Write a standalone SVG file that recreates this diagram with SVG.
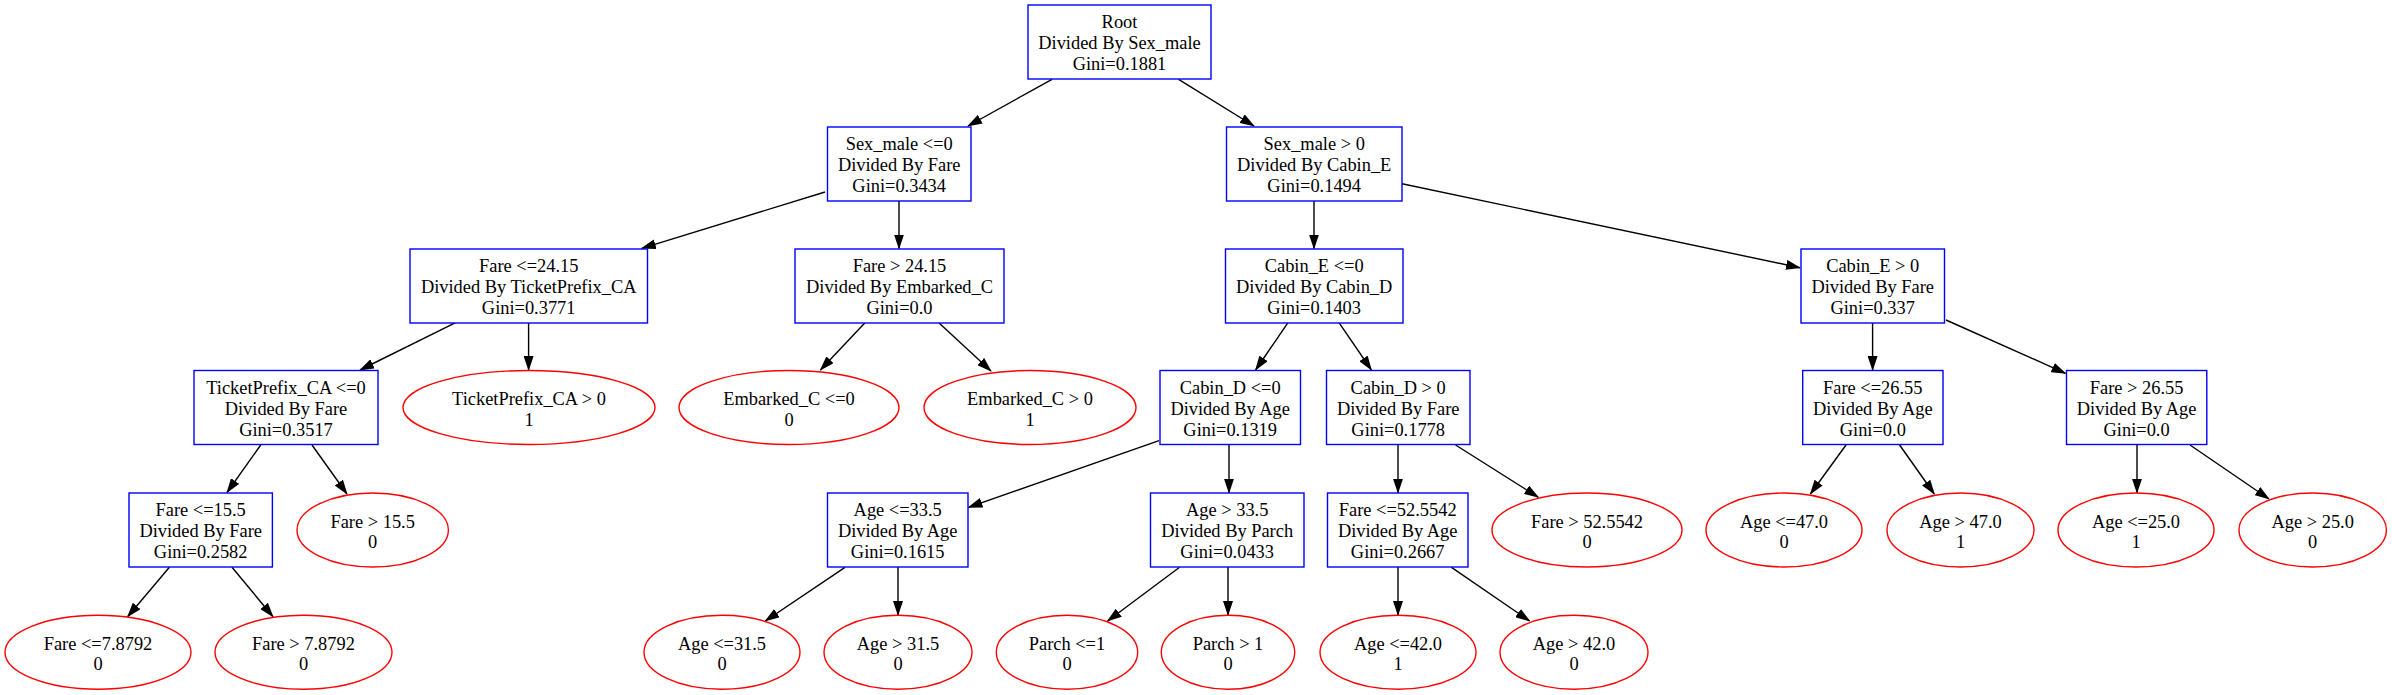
<svg xmlns="http://www.w3.org/2000/svg" width="2392" height="695" viewBox="0 0 2392 695">
<style>
.b{fill:#fff;stroke:#0000ff;stroke-width:1.4}
.e{fill:#fff;stroke:#ff0000;stroke-width:1.4}
text{font-family:"Liberation Serif","Times New Roman",serif;font-size:18.4px;fill:#000;text-anchor:middle}
.c line{stroke:#000;stroke-width:1.4;marker-end:url(#a)}
</style>
<defs>
<marker id="a" markerWidth="15" markerHeight="10" refX="14" refY="5" orient="auto" markerUnits="userSpaceOnUse"><path d="M0,0 L15,5 L0,10 z" fill="#000"/></marker>
</defs>
<rect width="2392" height="695" fill="#fff"/>
<g class="c" id="connectors">
<line x1="1052" y1="79.3" x2="968" y2="126"/>
<line x1="1178.6" y1="79.3" x2="1254" y2="126"/>
<line x1="825" y1="192" x2="641.8" y2="248.3"/>
<line x1="899" y1="201" x2="899" y2="248.5"/>
<line x1="1314" y1="201" x2="1314" y2="248.5"/>
<line x1="1402" y1="183.7" x2="1800" y2="267.7"/>
<line x1="455.6" y1="322.7" x2="360" y2="370"/>
<line x1="528.6" y1="323" x2="528.6" y2="370"/>
<line x1="865" y1="322.7" x2="820.4" y2="370"/>
<line x1="938.8" y1="322.7" x2="991" y2="371"/>
<line x1="1288" y1="322.7" x2="1255.6" y2="370"/>
<line x1="1339" y1="322.7" x2="1371.4" y2="370"/>
<line x1="1872.6" y1="323" x2="1872.6" y2="370"/>
<line x1="1946" y1="320" x2="2065.5" y2="373.3"/>
<line x1="260.7" y1="445" x2="227" y2="492.5"/>
<line x1="312" y1="445" x2="347" y2="494"/>
<line x1="169.4" y1="567.3" x2="127.6" y2="616.7"/>
<line x1="232" y1="567.3" x2="273" y2="616.7"/>
<line x1="1159" y1="440.7" x2="968.4" y2="507.3"/>
<line x1="1229" y1="444.5" x2="1229" y2="492.7"/>
<line x1="1398" y1="444.5" x2="1398" y2="492.7"/>
<line x1="1455.6" y1="445" x2="1538.3" y2="497.3"/>
<line x1="845" y1="567.3" x2="765.3" y2="621"/>
<line x1="898" y1="567" x2="898" y2="615"/>
<line x1="1179.6" y1="567.3" x2="1107.6" y2="621"/>
<line x1="1228" y1="567" x2="1228" y2="615"/>
<line x1="1398" y1="567" x2="1398" y2="615"/>
<line x1="1451.5" y1="567.3" x2="1529.6" y2="621"/>
<line x1="1846" y1="445" x2="1810.4" y2="494"/>
<line x1="1899.6" y1="445" x2="1934.3" y2="494"/>
<line x1="2137" y1="444.5" x2="2137" y2="492.7"/>
<line x1="2190" y1="445" x2="2269" y2="499"/>
</g>
<g id="root"><rect class="b" x="1028" y="5" width="183" height="74"/><text x="1119.5" y="28.3">Root</text><text x="1119.5" y="49.2">Divided By Sex_male</text><text x="1119.5" y="70">Gini=0.1881</text></g>
<g id="sm_le"><rect class="b" x="827.5" y="127" width="143.5" height="74"/><text x="899.2" y="150.3">Sex_male &lt;=0</text><text x="899.2" y="171.2">Divided By Fare</text><text x="899.2" y="192">Gini=0.3434</text></g>
<g id="sm_gt"><rect class="b" x="1226.5" y="127" width="175.5" height="74"/><text x="1314.2" y="150.3">Sex_male &gt; 0</text><text x="1314.2" y="171.2">Divided By Cabin_E</text><text x="1314.2" y="192">Gini=0.1494</text></g>
<g id="fare_le24"><rect class="b" x="410" y="249" width="237.5" height="74"/><text x="528.7" y="272.3">Fare &lt;=24.15</text><text x="528.7" y="293.2">Divided By TicketPrefix_CA</text><text x="528.7" y="314">Gini=0.3771</text></g>
<g id="fare_gt24"><rect class="b" x="795" y="249" width="209" height="74"/><text x="899.5" y="272.3">Fare &gt; 24.15</text><text x="899.5" y="293.2">Divided By Embarked_C</text><text x="899.5" y="314">Gini=0.0</text></g>
<g id="cabE_le"><rect class="b" x="1225.5" y="249" width="177.5" height="74"/><text x="1314.2" y="272.3">Cabin_E &lt;=0</text><text x="1314.2" y="293.2">Divided By Cabin_D</text><text x="1314.2" y="314">Gini=0.1403</text></g>
<g id="cabE_gt"><rect class="b" x="1801" y="249" width="143.5" height="74"/><text x="1872.7" y="272.3">Cabin_E &gt; 0</text><text x="1872.7" y="293.2">Divided By Fare</text><text x="1872.7" y="314">Gini=0.337</text></g>
<g id="tp_le"><rect class="b" x="194" y="370.5" width="184" height="74"/><text x="286" y="393.8">TicketPrefix_CA &lt;=0</text><text x="286" y="414.7">Divided By Fare</text><text x="286" y="435.5">Gini=0.3517</text></g>
<g id="tp_gt"><ellipse class="e" cx="529" cy="407.5" rx="126" ry="37"/><text x="529" y="405">TicketPrefix_CA &gt; 0</text><text x="529" y="425.5">1</text></g>
<g id="emb_le"><ellipse class="e" cx="789" cy="407.5" rx="110" ry="37"/><text x="789" y="405">Embarked_C &lt;=0</text><text x="789" y="425.5">0</text></g>
<g id="emb_gt"><ellipse class="e" cx="1030" cy="407.5" rx="106" ry="37"/><text x="1030" y="405">Embarked_C &gt; 0</text><text x="1030" y="425.5">1</text></g>
<g id="cabD_le"><rect class="b" x="1160" y="370.5" width="140.5" height="74"/><text x="1230.2" y="393.8">Cabin_D &lt;=0</text><text x="1230.2" y="414.7">Divided By Age</text><text x="1230.2" y="435.5">Gini=0.1319</text></g>
<g id="cabD_gt"><rect class="b" x="1326.5" y="370.5" width="143.5" height="74"/><text x="1398.2" y="393.8">Cabin_D &gt; 0</text><text x="1398.2" y="414.7">Divided By Fare</text><text x="1398.2" y="435.5">Gini=0.1778</text></g>
<g id="f_le26"><rect class="b" x="1802.7" y="370.5" width="140.3" height="74"/><text x="1872.8" y="393.8">Fare &lt;=26.55</text><text x="1872.8" y="414.7">Divided By Age</text><text x="1872.8" y="435.5">Gini=0.0</text></g>
<g id="f_gt26"><rect class="b" x="2066.5" y="370.5" width="140.3" height="74"/><text x="2136.6" y="393.8">Fare &gt; 26.55</text><text x="2136.6" y="414.7">Divided By Age</text><text x="2136.6" y="435.5">Gini=0.0</text></g>
<g id="f_le15"><rect class="b" x="129" y="493" width="143.4" height="74"/><text x="200.7" y="516.3">Fare &lt;=15.5</text><text x="200.7" y="537.2">Divided By Fare</text><text x="200.7" y="558">Gini=0.2582</text></g>
<g id="f_gt15"><ellipse class="e" cx="372.7" cy="530" rx="75.7" ry="37"/><text x="372.7" y="527.5">Fare &gt; 15.5</text><text x="372.7" y="548">0</text></g>
<g id="a_le33"><rect class="b" x="827.5" y="493" width="140.5" height="74"/><text x="897.7" y="516.3">Age &lt;=33.5</text><text x="897.7" y="537.2">Divided By Age</text><text x="897.7" y="558">Gini=0.1615</text></g>
<g id="a_gt33"><rect class="b" x="1150.5" y="493" width="153.5" height="74"/><text x="1227.2" y="516.3">Age &gt; 33.5</text><text x="1227.2" y="537.2">Divided By Parch</text><text x="1227.2" y="558">Gini=0.0433</text></g>
<g id="f_le52"><rect class="b" x="1327.5" y="493" width="140.5" height="74"/><text x="1397.7" y="516.3">Fare &lt;=52.5542</text><text x="1397.7" y="537.2">Divided By Age</text><text x="1397.7" y="558">Gini=0.2667</text></g>
<g id="f_gt52"><ellipse class="e" cx="1587" cy="530" rx="95" ry="37"/><text x="1587" y="527.5">Fare &gt; 52.5542</text><text x="1587" y="548">0</text></g>
<g id="a_le47"><ellipse class="e" cx="1784" cy="530" rx="78" ry="37"/><text x="1784" y="527.5">Age &lt;=47.0</text><text x="1784" y="548">0</text></g>
<g id="a_gt47"><ellipse class="e" cx="1960.5" cy="530" rx="73.5" ry="37"/><text x="1960.5" y="527.5">Age &gt; 47.0</text><text x="1960.5" y="548">1</text></g>
<g id="a_le25"><ellipse class="e" cx="2136" cy="530" rx="78" ry="37"/><text x="2136" y="527.5">Age &lt;=25.0</text><text x="2136" y="548">1</text></g>
<g id="a_gt25"><ellipse class="e" cx="2312.7" cy="530" rx="73.7" ry="37"/><text x="2312.7" y="527.5">Age &gt; 25.0</text><text x="2312.7" y="548">0</text></g>
<g id="f_le78"><ellipse class="e" cx="98" cy="652.3" rx="93" ry="37"/><text x="98" y="649.8">Fare &lt;=7.8792</text><text x="98" y="670.3">0</text></g>
<g id="f_gt78"><ellipse class="e" cx="303.5" cy="652.3" rx="88.5" ry="37"/><text x="303.5" y="649.8">Fare &gt; 7.8792</text><text x="303.5" y="670.3">0</text></g>
<g id="a_le31"><ellipse class="e" cx="722" cy="652.3" rx="78" ry="37"/><text x="722" y="649.8">Age &lt;=31.5</text><text x="722" y="670.3">0</text></g>
<g id="a_gt31"><ellipse class="e" cx="898" cy="652.3" rx="74" ry="37"/><text x="898" y="649.8">Age &gt; 31.5</text><text x="898" y="670.3">0</text></g>
<g id="p_le1"><ellipse class="e" cx="1067" cy="652.3" rx="70.7" ry="37"/><text x="1067" y="649.8">Parch &lt;=1</text><text x="1067" y="670.3">0</text></g>
<g id="p_gt1"><ellipse class="e" cx="1228" cy="652.3" rx="66.7" ry="37"/><text x="1228" y="649.8">Parch &gt; 1</text><text x="1228" y="670.3">0</text></g>
<g id="a_le42"><ellipse class="e" cx="1398" cy="652.3" rx="78" ry="37"/><text x="1398" y="649.8">Age &lt;=42.0</text><text x="1398" y="670.3">1</text></g>
<g id="a_gt42"><ellipse class="e" cx="1574" cy="652.3" rx="74" ry="37"/><text x="1574" y="649.8">Age &gt; 42.0</text><text x="1574" y="670.3">0</text></g>
</svg>
